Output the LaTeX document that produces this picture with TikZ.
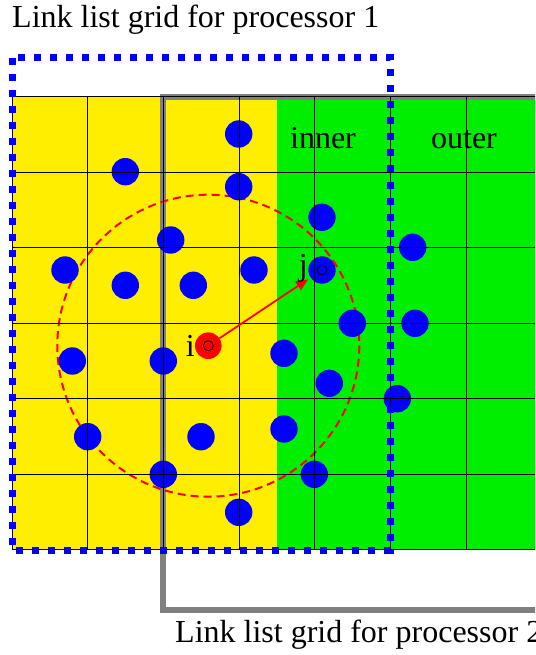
\documentclass[tikz,border=0pt]{standalone}
\usepackage{fontspec}
\setmainfont{Liberation Serif}
\usetikzlibrary{arrows.meta}
\definecolor{cellyellow}{RGB}{255,238,0}
\definecolor{cellgreen}{RGB}{0,238,0}
\definecolor{procgray}{RGB}{128,128,128}
\begin{document}
\begin{tikzpicture}[x=1pt,y=-1pt,
  particle/.style={circle,fill=blue,minimum size=27.4pt,inner sep=0pt,outer sep=0pt},
  focus/.style={circle,fill=red,minimum size=26.6pt,inner sep=0pt,outer sep=0pt},
  gridline/.style={black,line width=1pt},
  label/.style={font=\fontsize{32}{36}\selectfont,inner sep=0pt,anchor=base},
  title/.style={font=\fontsize{32}{36}\selectfont,inner sep=0pt,anchor=base west},
  proc1/.style={blue,line width=7pt,dash pattern=on 7pt off 9pt},
  proc2/.style={procgray,line width=6pt},
  cutoff/.style={red,line width=2pt,dash pattern=on 8pt off 5pt},
  pairlink/.style={red,line width=1.8pt,-{Triangle[length=12pt,width=10pt]},shorten >=3pt},
  marker/.style={black,line width=0.8pt}]
\useasboundingbox (0,0) rectangle (535,655);
\clip (0,0) rectangle (535,655);

% cell regions: inner (yellow) and outer (green)
\fill[cellyellow] (12,96.7) rectangle (276.9,549.7);
\fill[cellgreen] (276.9,96.7) rectangle (600,549.7);

% link list grid of processor 2
\draw[proc2] (163.4,96.7) rectangle (620,610);

% particles i and j
\node[focus] (i) at (208.3,345.7) {};
\node[particle] (j) at (322,270) {};

% cut-off radius around i
\draw[cutoff] (i) circle[radius=151];

% other particles
\foreach \px/\py in {238.7/134, 125.3/171.7, 238.7/186.7, 322/217.3, 170.7/240,
  65/270, 125.3/285.3, 193.3/285.3, 254/270, 412.7/247.3, 352.3/323.3,
  415/323.3, 284/353.3, 72.3/361, 163.3/361, 329.3/383.3, 397.3/398.7,
  87.7/436.7, 201/436.7, 284/429, 163.3/474.3, 314.3/474.3, 238.7/512.3}
  \node[particle] at (\px,\py) {};

% grid cells
\foreach \k in {0,...,7}
  \draw[gridline] ({12+75.7*\k},96.7) -- ({12+75.7*\k},549.7);
\foreach \k in {0,...,6}
  \draw[gridline] (12,{96.7+75.5*\k}) -- (600,{96.7+75.5*\k});

% link list grid of processor 1
\draw[proc1] (12,58) rectangle (390.5,550);

% markers and pair vector
\draw[marker] (i) circle[radius=5];
\draw[marker] (j) circle[radius=5];
\draw[pairlink] (i) -- (j);

% labels
\node[label] (ilabel) at (190.3,356) {i};
\node[label] (jlabel) at (303.3,275.5) {j};
\node[label] (inner) at (323,149) {inner};
\node[label] (outer) at (464,149) {outer};
\node[title] (t1) at (12,27.3) {Link list grid for processor 1};
\node[title] (t2) at (175,642) {Link list grid for processor 2};
\end{tikzpicture}
\end{document}
